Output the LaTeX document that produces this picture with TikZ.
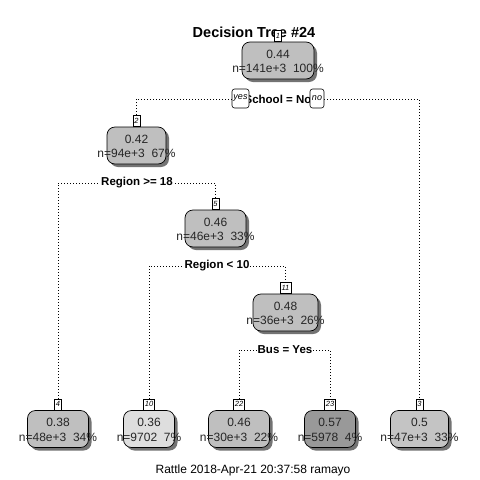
\documentclass[tikz,border=0pt]{standalone}
\usepackage{fontspec}
\setmainfont{Liberation Sans}
\tikzset{
  x=1pt, y=-1pt,
  tbox/.style={draw, line width=0.7pt, rounded corners=8pt, minimum height=37pt, inner sep=0pt},
  shad/.style={fill=black!55, rounded corners=8pt},
  txt/.style={inner sep=0pt, font=\fontsize{12}{14}\selectfont, text=black!85},
  lab/.style={draw, fill=white, line width=0.6pt, inner xsep=1.5pt, inner ysep=0pt, minimum height=11pt, font=\fontsize{7.5}{8}\itshape\selectfont, anchor=south},
  conn/.style={line width=0.8pt, dash pattern=on 0.8pt off 2.2pt},
  split/.style={fill=white, inner xsep=1pt, inner ysep=1pt, font=\fontsize{11.5}{13}\bfseries\selectfont},
  yn/.style={draw, fill=white, line width=0.6pt, rounded corners=2.5pt, minimum height=19pt, inner sep=0pt, font=\fontsize{9}{10}\itshape\selectfont},
}
\newcommand\tnode[8]{%
  \fill[shad] (#2-#4/2+3, #3-18.5+3) rectangle (#2+#4/2+3, #3+18.5+3);
  \node[tbox, fill=#5, minimum width=#4pt] (#1) at (#2,#3) {};
  \node[txt] (#1v) at (#2,#3-6.5) {#6};
  \node[txt] (#1n) at (#2,#3+8) {#7};
  \node[lab] (#1l) at (#1.north) {#8};
}
\begin{document}
\begin{tikzpicture}
\useasboundingbox (0,0) rectangle (480,480);
\fill[white] (0,0) rectangle (480,480);
\node[inner sep=0pt, font=\fontsize{14.5}{16}\bfseries\selectfont] (title) at (254,32) {Decision Tree \#24};
% split coordinates
\coordinate (s1) at (278,99);
\coordinate (s2) at (137,183);
\coordinate (s5) at (217,266);
\coordinate (s11) at (285,350);
% nodes
\tnode{n1}{278}{60.5}{72}{black!25}{0.44}{n=141e+3\ \ 100\%}{1}
\tnode{n2}{136.5}{145.5}{59}{black!25}{0.42}{n=94e+3\ \ 67\%}{2}
\tnode{n5}{215.5}{228.5}{61}{black!25}{0.46}{n=46e+3\ \ 33\%}{5}
\tnode{n11}{285.5}{312.5}{65}{black!25}{0.48}{n=36e+3\ \ 26\%}{11}
\tnode{n4}{58}{429}{61}{black!25}{0.38}{n=48e+3\ \ 34\%}{4}
\tnode{n10}{149}{429}{51}{black!13}{0.36}{n=9702\ \ 7\%}{10}
\tnode{n22}{239}{429}{61}{black!25}{0.46}{n=30e+3\ \ 22\%}{22}
\tnode{n23}{330}{429}{51}{black!40}{0.57}{n=5978\ \ 4\%}{23}
\tnode{n3}{419.5}{429}{58}{black!23}{0.5}{n=47e+3\ \ 33\%}{3}
% connectors
\draw[conn] (n2l.north) -- (n2l.north |- s1) -- (n3l.north |- s1) -- (n3l.north);
\draw[conn] (n4l.north) -- (n4l.north |- s2) -- (n5l.north |- s2) -- (n5l.north);
\draw[conn] (n10l.north) -- (n10l.north |- s5) -- (n11l.north |- s5) -- (n11l.north);
\draw[conn] (n22l.north) -- (n22l.north |- s11) -- (n23l.north |- s11) -- (n23l.north);
% split labels
\node[split] (t1) at (s1) {School = No};
\node[split] (t2) at (s2) {Region >= 18};
\node[split] (t5) at (s5) {Region < 10};
\node[split] (t11) at (s11) {Bus = Yes};
\node[yn, minimum width=17pt] (yes) at (240.5,98.5) {yes};
\node[yn, minimum width=14pt] (no) at (317,98.5) {no};
% footer
\node[inner sep=0pt, font=\fontsize{12}{14}\selectfont] (foot) at (253,470) {Rattle 2018-Apr-21 20:37:58 ramayo};
\end{tikzpicture}
\end{document}
